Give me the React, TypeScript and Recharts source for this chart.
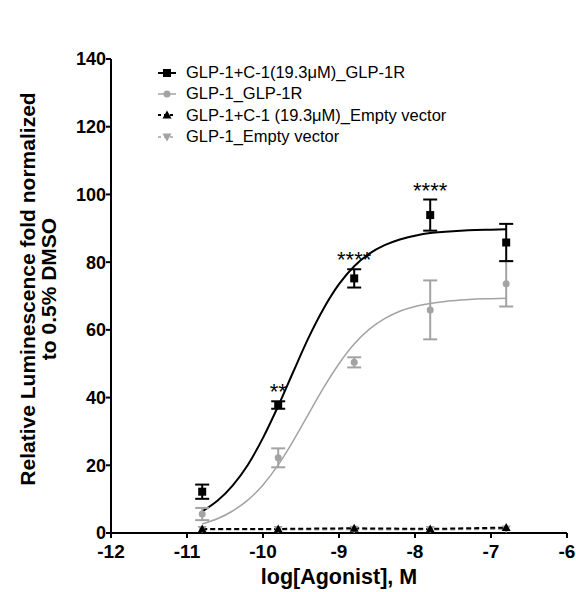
import { ComposedChart, Line, Scatter, ErrorBar, XAxis, YAxis, Legend, Label } from "recharts";

const logDose = [-10.8, -9.8, -8.8, -7.8, -6.8];
const c1Receptor = [12.2, 37.8, 75.2, 93.9, 85.8];
const c1ReceptorSem = [2.1, 1.1, 2.7, 4.6, 5.5];
const glpReceptor = [5.6, 22.2, 50.4, 65.9, 73.6];
const glpReceptorSem = [1.8, 2.8, 1.5, 8.7, 6.7];
const c1Empty = [1.2, 1.2, 1.4, 1.2, 1.6];
const glpEmpty = [1.0, 1.0, 1.1, 1.0, 1.2];
const significance = ["", "**", "****", "****", ""];

// fitted curves
const fitDose = [-10.8, -10.6, -10.4, -10.2, -10.0, -9.8, -9.6, -9.4, -9.2, -9.0, -8.8, -8.6, -8.4, -8.2, -8.0, -7.8, -7.6, -7.4, -7.2, -7.0, -6.8];
const c1ReceptorFit = [6.4, 9.5, 14.0, 20.1, 28.1, 37.5, 47.7, 57.7, 66.4, 73.5, 78.8, 82.5, 85.0, 86.7, 87.8, 88.6, 89.0, 89.3, 89.5, 89.6, 89.7];
const glpReceptorFit = [2.7, 4.2, 6.5, 9.7, 14.2, 20.1, 27.3, 35.2, 43.0, 50.0, 55.8, 60.2, 63.3, 65.5, 66.9, 67.8, 68.4, 68.8, 69.1, 69.2, 69.3];

const xTicks = [-12, -11, -10, -9, -8, -7, -6];
const yTicks = [0, 20, 40, 60, 80, 100, 120, 140];

const legendNames = [
  "GLP-1+C-1(19.3\u03bcM)_GLP-1R",
  "GLP-1_GLP-1R",
  "GLP-1+C-1 (19.3\u03bcM)_Empty vector",
  "GLP-1_Empty vector",
];

const FONT = '"Liberation Sans", Arial, sans-serif';
const GRAY = "#a3a3a3";

const c1Points = logDose.map((x, i) => ({ x, y: c1Receptor[i], err: c1ReceptorSem[i] }));
const glpPoints = logDose.map((x, i) => ({ x, y: glpReceptor[i], err: glpReceptorSem[i] }));
const c1EmptyPoints = logDose.map((x, i) => ({ x, y: c1Empty[i] }));
const glpEmptyPoints = logDose.map((x, i) => ({ x, y: glpEmpty[i] }));
const c1Fit = fitDose.map((x, i) => ({ x, y: c1ReceptorFit[i] }));
const glpFit = fitDose.map((x, i) => ({ x, y: glpReceptorFit[i] }));
const sigPoints = logDose
  .map((x, i) => ({ x, y: c1Receptor[i] + c1ReceptorSem[i], label: significance[i] }))
  .filter((d) => d.label !== "");

const square = (p: any) => <rect x={p.cx - 4} y={p.cy - 4} width={8} height={8} fill="#000" />;
const circle = (p: any) => <circle cx={p.cx} cy={p.cy} r={3.5} fill={GRAY} />;
const triUp = (p: any) => (
  <path key={p.index} d={`M${p.cx},${p.cy - 4.5}L${p.cx + 4.5},${p.cy + 3.5}L${p.cx - 4.5},${p.cy + 3.5}Z`} fill="#000" />
);
const triDown = (p: any) => (
  <path key={p.index} d={`M${p.cx},${p.cy + 4.5}L${p.cx + 4.5},${p.cy - 3.5}L${p.cx - 4.5},${p.cy - 3.5}Z`} fill={GRAY} />
);
const stars = (p: any) => (
  <text x={p.cx} y={p.cy - 2} textAnchor="middle" fontFamily={FONT} fontSize={22} fill="#000">
    {p.payload.label}
  </text>
);

function LegendBox() {
  const icons = [
    <g><line x1={0} y1={6} x2={18} y2={6} stroke="#000" strokeWidth={2} /><rect x={5} y={2} width={8} height={8} fill="#000" /></g>,
    <g><line x1={0} y1={6} x2={18} y2={6} stroke={GRAY} strokeWidth={1.5} /><circle cx={9} cy={6} r={3.5} fill={GRAY} /></g>,
    <g><line x1={0} y1={6} x2={18} y2={6} stroke="#000" strokeWidth={2} strokeDasharray="3 3" /><path d="M9,1.5L13.5,9.5L4.5,9.5Z" fill="#000" /></g>,
    <g><line x1={0} y1={6} x2={18} y2={6} stroke={GRAY} strokeWidth={1.5} strokeDasharray="3 3" /><path d="M9,10.5L13.5,2.5L4.5,2.5Z" fill={GRAY} /></g>,
  ];
  return (
    <div style={{ fontFamily: FONT, fontSize: 16.5, color: "#000", lineHeight: "21.3px" }}>
      {legendNames.map((name, i) => (
        <div key={name} style={{ display: "flex", alignItems: "center", height: 21.3 }}>
          <svg width={18} height={12} style={{ marginRight: 10 }}>{icons[i]}</svg>
          <span>{name}</span>
        </div>
      ))}
    </div>
  );
}

export default function App() {
  return (
    <div style={{ position: "absolute", left: 0, top: 0, width: 576, height: 592, background: "#fff" }}>
      <ComposedChart width={576} height={592} margin={{ top: 59, right: 9, bottom: 29, left: 51 }}>
        <XAxis
          type="number"
          dataKey="x"
          domain={[-12, -6]}
          ticks={xTicks}
          allowDataOverflow
          axisLine={{ stroke: "#000", strokeWidth: 2 }}
          tickLine={{ stroke: "#000", strokeWidth: 2 }}
          tickSize={5}
          tickMargin={7}
          tick={{ fill: "#000", fontSize: 19, fontWeight: "bold", fontFamily: FONT }}
          height={30}
        >
          <Label
            content={() => (
              <text x={339} y={584} textAnchor="middle" fontFamily={FONT} fontSize={21.5} fontWeight="bold" fill="#000">
                log[Agonist], M
              </text>
            )}
          />
        </XAxis>
        <YAxis
          type="number"
          domain={[0, 140]}
          ticks={yTicks}
          allowDataOverflow
          axisLine={{ stroke: "#000", strokeWidth: 2 }}
          tickLine={{ stroke: "#000", strokeWidth: 2 }}
          tickSize={5}
          tickMargin={0}
          tick={{ fill: "#000", fontSize: 18, fontWeight: "bold", fontFamily: FONT }}
          width={60}
        >
          <Label
            content={() => (
              <text transform="translate(0,289) rotate(-90)" textAnchor="middle" fontFamily={FONT} fontSize={21} fontWeight="bold" fill="#000">
                <tspan x={0} y={35}>Relative Luminescence fold normalized</tspan>
                <tspan x={0} y={56}>to 0.5% DMSO</tspan>
              </text>
            )}
          />
        </YAxis>
        <Legend
          layout="horizontal"
          verticalAlign="middle"
          align="center"
          wrapperStyle={{ left: 158, top: 62, width: 330 }}
          content={() => <LegendBox />}
        />
        <Line data={glpFit} dataKey="y" type="monotone" stroke={GRAY} strokeWidth={1.5} dot={false} activeDot={false} isAnimationActive={false} />
        <Line data={c1Fit} dataKey="y" type="monotone" stroke="#000" strokeWidth={2} dot={false} activeDot={false} isAnimationActive={false} />
        <Line data={glpEmptyPoints} dataKey="y" type="linear" stroke={GRAY} strokeWidth={2} strokeDasharray="5 3" dot={triDown} activeDot={false} isAnimationActive={false} />
        <Line data={c1EmptyPoints} dataKey="y" type="linear" stroke="#000" strokeWidth={2} strokeDasharray="5 3" dot={triUp} activeDot={false} isAnimationActive={false} />
        <Scatter data={glpPoints} dataKey="y" shape={circle} isAnimationActive={false}>
          <ErrorBar dataKey="err" direction="y" width={7} stroke={GRAY} strokeWidth={2} />
        </Scatter>
        <Scatter data={c1Points} dataKey="y" shape={square} isAnimationActive={false}>
          <ErrorBar dataKey="err" direction="y" width={7} stroke="#000" strokeWidth={2} />
        </Scatter>
        <Scatter data={sigPoints} dataKey="y" shape={stars} isAnimationActive={false} />
      </ComposedChart>
    </div>
  );
}
